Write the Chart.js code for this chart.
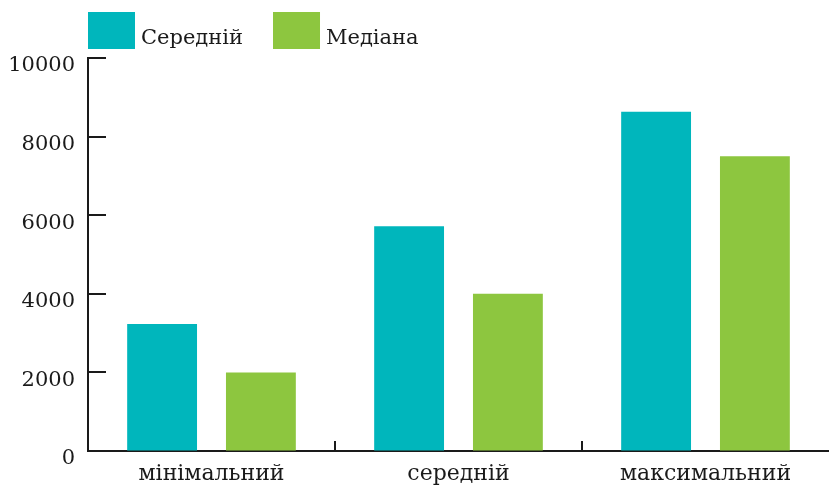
<!DOCTYPE html>
<html lang="uk">
<head>
<meta charset="utf-8">
<title>Середній і медіана</title>
<script src="https://cdn.jsdelivr.net/npm/chart.js@4.4.1/dist/chart.umd.min.js"></script>
<style>
  html, body { margin: 0; padding: 0; background: #ffffff; }
  #wrap { width: 829px; height: 488px; position: relative; }
</style>
</head>
<body>
<div id="wrap"><canvas id="chart" width="829" height="488"></canvas></div>
<script>
// Categories and series
const categories = ['мінімальний', 'середній', 'максимальний'];
const meanValues = [3230, 5720, 8630];
const medianValues = [2000, 4000, 7500];
const seriesNames = ['Середній', 'Медіана'];
const seriesColors = ['#00B6BC', '#8DC63F'];
const yTicks = [0, 2000, 4000, 6000, 8000, 10000];

const FONT = 'DejaVu Serif';
const INK = '#1a1a1a';

// Legend row drawn above the plot, starting at the left edge of the axis
const topLegend = {
  id: 'topLegend',
  afterDraw(chart) {
    const ctx = chart.ctx;
    ctx.save();
    ctx.font = '21px "' + FONT + '"';
    ctx.textBaseline = 'alphabetic';
    ctx.textAlign = 'left';
    let x = chart.chartArea.left;
    chart.data.datasets.forEach(ds => {
      ctx.fillStyle = ds.backgroundColor;
      ctx.fillRect(x, 12, 47, 37);
      ctx.fillStyle = INK;
      ctx.fillText(ds.label, x + 53, 44);
      x += 53 + ctx.measureText(ds.label).width + 30;
    });
    ctx.restore();
  }
};

// Short tick marks pointing into the plot: value ticks on the y axis,
// category boundaries on the x axis
const innerTicks = {
  id: 'innerTicks',
  afterDraw(chart) {
    const { ctx, chartArea, scales } = chart;
    ctx.save();
    ctx.strokeStyle = INK;
    ctx.lineWidth = 2;
    ctx.lineCap = 'butt';
    const y = scales.y;
    y.ticks.forEach(t => {
      const py = Math.round(y.getPixelForValue(t.value));
      ctx.beginPath();
      ctx.moveTo(chartArea.left - 1, py);
      ctx.lineTo(chartArea.left + 18, py);
      ctx.stroke();
    });
    const x = scales.x;
    for (let i = 1; i < categories.length; i++) {
      const px = Math.round((x.getPixelForValue(i - 1) + x.getPixelForValue(i)) / 2);
      ctx.beginPath();
      ctx.moveTo(px, chartArea.bottom);
      ctx.lineTo(px, chartArea.bottom - 10);
      ctx.stroke();
    }
    ctx.restore();
  }
};

new Chart(document.getElementById('chart'), {
  type: 'bar',
  data: {
    labels: categories,
    datasets: [
      { label: seriesNames[0], data: meanValues, backgroundColor: seriesColors[0] },
      { label: seriesNames[1], data: medianValues, backgroundColor: seriesColors[1] }
    ]
  },
  options: {
    responsive: false,
    animation: false,
    devicePixelRatio: 1,
    categoryPercentage: 0.8,
    barPercentage: 0.707,
    layout: { padding: { top: 58, left: 9, right: 0, bottom: 2 } },
    plugins: {
      legend: { display: false },
      tooltip: { enabled: false }
    },
    scales: {
      x: {
        afterFit(scale) { scale.height = 35; },
        grid: { drawOnChartArea: false, drawTicks: false },
        border: { display: true, color: INK, width: 2 },
        ticks: {
          color: INK,
          font: { family: FONT, size: 22 },
          padding: 10
        }
      },
      y: {
        min: 0,
        max: 10000,
        afterBuildTicks(scale) {
          scale.ticks = yTicks.map(v => ({ value: v }));
        },
        afterFit(scale) { scale.width = 79; },
        grid: { drawOnChartArea: false, drawTicks: false },
        border: { display: true, color: INK, width: 2 },
        ticks: {
          color: INK,
          font: { family: FONT, size: 21 },
          padding: 13,
          labelOffset: 8,
          callback: v => String(v)
        }
      }
    }
  },
  plugins: [topLegend, innerTicks]
});
</script>
</body>
</html>
